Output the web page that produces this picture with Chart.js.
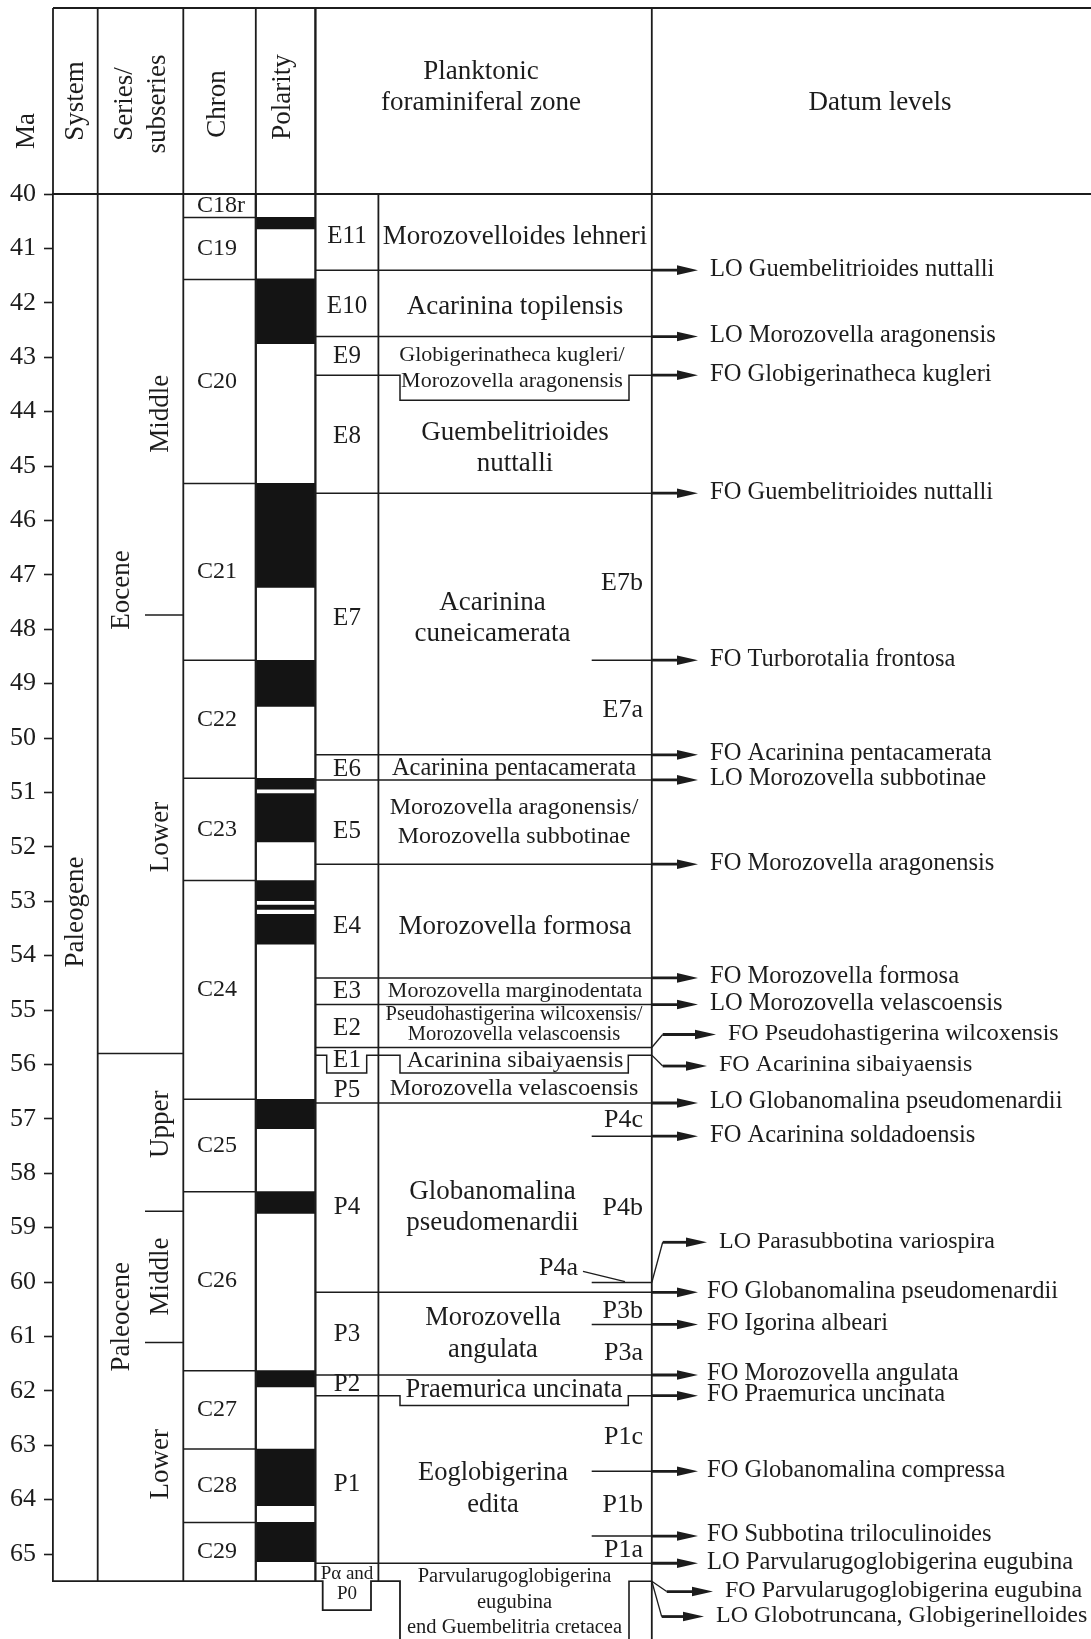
<!DOCTYPE html>
<html>
<head>
<meta charset="utf-8">
<script src="https://cdn.jsdelivr.net/npm/chart.js@4.4.1/dist/chart.umd.min.js"></script>
<style>
  html, body { margin: 0; padding: 0; background: #fff; }
  #wrap { width: 1091px; height: 1639px; }
</style>
</head>
<body>
<div id="wrap"><canvas id="c" width="1091" height="1639"></canvas></div>
<script>
// ---- Age axis (Ma) ----
const ageTicks = [40,41,42,43,44,45,46,47,48,49,50,51,52,53,54,55,56,57,58,59,60,61,62,63,64,65];
const ageTop = 40;
const ageBase = 65.5;

// ---- Magnetic chrons ----
const chronNames = ['C18r','C19','C20','C21','C22','C23','C24','C25','C26','C27','C28','C29'];
const chronBases = [40.43, 41.57, 45.32, 48.57, 50.74, 52.62, 56.64, 58.34, 61.63, 63.07, 64.42, 65.5];

// ---- Normal polarity intervals (black) ----
const normalTops  = [40.43, 41.56, 45.32, 48.57, 50.74, 51.02, 52.62, 53.07, 53.24, 56.64, 58.34, 61.63, 63.07, 64.42];
const normalBases = [40.64, 42.75, 47.23, 49.42, 50.94, 51.91, 52.99, 53.15, 53.79, 57.18, 58.74, 61.93, 64.11, 65.14];

// ---- System / series / subseries ----
const systemName = 'Paleogene';
const systemLabelAt = 53.2;
const seriesNames = ['Eocene', 'Paleocene'];
const seriesBases = [55.8, 65.5];
const seriesLabelAt = [47.28, 60.64];
const subseriesNames = ['Middle', 'Lower', 'Upper', 'Middle', 'Lower'];
const subseriesBases = [47.74, 55.8, 58.7, 61.11, 65.5];
const subseriesLabelAt = [44.04, 51.82, 57.1, 59.9, 63.35];

// ---- Planktonic foraminiferal zones ----
const zoneCodes = ['E11','E10','E9','E8','E7','E6','E5','E4','E3','E2','E1','P5','P4','P3','P2','P1'];
const zoneBases = [41.40, 42.62, 43.33, 45.50, 50.31, 50.77, 52.32, 54.41, 54.90, 55.69, 55.83, 56.71, 60.19, 61.71, 62.09, 65.17];
const zoneCodeAt = [40.78, 42.07, 42.99, 44.46, 47.80, 50.58, 51.72, 53.47, 54.66, 55.34, 55.93, 56.47, 58.63, 60.96, 61.89, 63.73];
const zoneNames = [
  ['Morozovelloides lehneri'],
  ['Acarinina topilensis'],
  ['Globigerinatheca kugleri/', 'Morozovella aragonensis'],
  ['Guembelitrioides', 'nuttalli'],
  ['Acarinina', 'cuneicamerata'],
  ['Acarinina pentacamerata'],
  ['Morozovella aragonensis/', 'Morozovella subbotinae'],
  ['Morozovella formosa'],
  ['Morozovella marginodentata'],
  ['Pseudohastigerina wilcoxensis/', 'Morozovella velascoensis'],
  ['Acarinina sibaiyaensis'],
  ['Morozovella velascoensis'],
  ['Globanomalina', 'pseudomenardii'],
  ['Morozovella', 'angulata'],
  ['Praemurica uncinata'],
  ['Eoglobigerina', 'edita']
];
const zoneNameAt = [40.78, 42.07, 43.20, 44.67, 47.80, 50.56, 51.55, 53.47, 54.66, 55.27, 55.93, 56.44, 58.63, 60.96, 61.99, 63.81];

// Lowest zone (Pα and P0), partly below the section base
const baseZoneCode = ['Pα and', 'P0'];
const baseZoneCodeAt = [65.36, 65.73];
const baseZoneName = ['Parvularugoglobigerina', 'eugubina', 'end Guembelitria cretacea'];
const baseZoneNameAt = 65.89;
const baseZoneBoxBase = 66.03;

// Boxes of E9, E1 and P2 that reach below their zone boundary
const e9BoxBase = 43.79;
const e1BoxBase = 56.16;
const p2BoxBase = 62.27;

// ---- Subzones ----
const subzoneBounds = [48.57, 57.32, 60.01, 60.78, 63.48, 64.67];
const subzoneLabels = ['E7b','E7a','P4c','P4b','P4a','P3b','P3a','P1c','P1b','P1a'];
const subzoneLabelAt = [47.16, 49.49, 57.02, 58.65, 59.75, 60.54, 61.31, 62.86, 64.11, 64.93];

// ---- Datum levels ----
const datumNames = [
  'LO Guembelitrioides nuttalli',
  'LO Morozovella aragonensis',
  'FO Globigerinatheca kugleri',
  'FO Guembelitrioides nuttalli',
  'FO Turborotalia frontosa',
  'FO Acarinina pentacamerata',
  'LO Morozovella subbotinae',
  'FO Morozovella aragonensis',
  'FO Morozovella formosa',
  'LO Morozovella velascoensis',
  'FO Pseudohastigerina wilcoxensis',
  'FO Acarinina sibaiyaensis',
  'LO Globanomalina pseudomenardii',
  'FO Acarinina soldadoensis',
  'LO Parasubbotina variospira',
  'FO Globanomalina pseudomenardii',
  'FO Igorina albeari',
  'FO Morozovella angulata',
  'FO Praemurica uncinata',
  'FO Globanomalina compressa',
  'FO Subbotina triloculinoides',
  'LO Parvularugoglobigerina eugubina',
  'FO Parvularugoglobigerina eugubina',
  'LO Globotruncana, Globigerinelloides'
];
// age where each datum leaves the zone column
const datumAges = [41.40, 42.62, 43.33, 45.50, 48.57, 50.31, 50.77, 52.32, 54.41, 54.90, 55.69, 55.83,
                   56.71, 57.32, 60.01, 60.19, 60.78, 61.71, 62.09, 63.48, 64.67, 65.17, 65.5, 65.5];
// age level of each arrow (differs where a leader is bent)
const datumArrowAges = [41.40, 42.62, 43.33, 45.50, 48.57, 50.31, 50.77, 52.32, 54.41, 54.90, 55.45, 56.03,
                        56.71, 57.32, 59.27, 60.19, 60.78, 61.71, 62.09, 63.48, 64.67, 65.17, 65.69, 66.15];

// ================= drawing =================
const INK = '#1c1c1c';
const SERIF = '"Liberation Serif", "Times New Roman", serif';

// column edges (x scale units = canvas px)
const COL = { axis: 53, system: 97.7, series: 183.3, chron: 255.8, polarity: 315.4, code: 378.4, datum: 651.8, right: 1091 };

const columnPlugin = {
  id: 'stratColumns',
  afterDatasetsDraw(chart) {
    const { ctx, scales } = chart;
    const xs = scales.x, ys = scales.y;
    const X = v => xs.getPixelForValue(v);
    const Y = v => ys.getPixelForValue(v);
    const H = chart.height;
    const headTop = 8;

    ctx.save();
    ctx.strokeStyle = INK;
    ctx.fillStyle = INK;
    ctx.lineCap = 'butt';
    ctx.lineJoin = 'miter';

    const seg = (x1, y1, x2, y2, w) => {
      ctx.lineWidth = w || 1.6;
      ctx.beginPath(); ctx.moveTo(x1, y1); ctx.lineTo(x2, y2); ctx.stroke();
    };
    const path = (pts, w) => {
      ctx.lineWidth = w || 1.6;
      ctx.beginPath();
      pts.forEach((p, i) => i ? ctx.lineTo(p[0], p[1]) : ctx.moveTo(p[0], p[1]));
      ctx.stroke();
    };
    const txt = (s, x, y, size, align, rotate) => {
      ctx.save();
      ctx.font = size + 'px ' + SERIF;
      ctx.textAlign = align || 'center';
      ctx.textBaseline = 'middle';
      if (rotate) { ctx.translate(x, y); ctx.rotate(-Math.PI / 2); ctx.fillText(s, 0, 0); }
      else ctx.fillText(s, x, y);
      ctx.restore();
    };

    const y40 = Y(ageTop), yBase = Y(ageBase);

    // ---- header frame ----
    seg(X(COL.axis), headTop, X(COL.right), headTop, 1.8);
    seg(X(COL.axis), y40, X(COL.right), y40, 1.8);
    [COL.axis, COL.system, COL.series, COL.chron, COL.datum].forEach(c => seg(X(c), headTop, X(c), y40, 1.8));
    seg(X(COL.polarity), headTop, X(COL.polarity), y40, 2.4);

    // header titles
    txt('Ma', 27, 131, 27, 'center', true);
    txt('System', 75.5, 101, 27, 'center', true);
    txt('Series/', 125, 104, 27, 'center', true);
    txt('subseries', 158, 104, 27, 'center', true);
    txt('Chron', 218, 104, 27, 'center', true);
    txt('Polarity', 283, 97, 27, 'center', true);
    txt('Planktonic', 481, 72, 27);
    txt('foraminiferal zone', 481, 103, 27);
    txt('Datum levels', 880, 103, 27);

    // ---- body verticals ----
    [COL.system, COL.series, COL.code].forEach(c => seg(X(c), y40, X(c), yBase, 1.8));
    [COL.chron, COL.polarity].forEach(c => seg(X(c), y40, X(c), yBase, 2.3));
    seg(X(COL.datum), y40, X(COL.datum), H, 1.8);

    // section base with the Pα–P0 and lowest-zone boxes
    const yP0 = Y(baseZoneBoxBase);
    path([[X(COL.axis), yBase], [X(322.7), yBase], [X(322.7), yP0], [X(371), yP0], [X(371), yBase],
          [X(400), yBase], [X(400), H]], 1.8);
    path([[X(629), H], [X(629), yBase], [X(COL.datum), yBase]], 1.6);

    // ---- system / series ----
    txt(systemName, 75.5, Y(systemLabelAt), 27, 'center', true);
    seg(X(COL.system), Y(seriesBases[0]), X(COL.series), Y(seriesBases[0]), 1.5);
    seriesNames.forEach((s, i) => txt(s, 122, Y(seriesLabelAt[i]), 27, 'center', true));
    subseriesBases.forEach(b => {
      if (seriesBases.indexOf(b) < 0) seg(X(145), Y(b), X(COL.series), Y(b), 1.5);
    });
    subseriesNames.forEach((s, i) => txt(s, 161, Y(subseriesLabelAt[i]), 27, 'center', true));

    // ---- chrons ----
    chronBases.forEach((b, i) => {
      if (i < chronBases.length - 1) seg(X(COL.series), Y(b), X(COL.chron), Y(b), 1.5);
      const top = i ? chronBases[i - 1] : ageTop;
      txt(chronNames[i], 197, Y((top + b) / 2), 24, 'left');
    });

    // ---- zones ----
    zoneBases.forEach((b, i) => {
      const yb = Y(b);
      if (i === 2) {
        const yn = Y(e9BoxBase);
        path([[X(COL.polarity), yb], [X(400), yb], [X(400), yn], [X(629), yn], [X(629), yb], [X(COL.datum), yb]], 1.5);
      } else if (i === 10) {
        const yn = Y(e1BoxBase);
        path([[X(COL.polarity), yb], [X(326.7), yb], [X(326.7), yn], [X(366.7), yn], [X(366.7), yb],
              [X(400), yb], [X(400), yn], [X(628.3), yn], [X(628.3), yb], [X(COL.datum), yb]], 1.5);
      } else if (i === 14) {
        const yn = Y(p2BoxBase);
        path([[X(COL.polarity), yb], [X(400), yb], [X(400), yn], [X(628.3), yn], [X(628.3), yb], [X(COL.datum), yb]], 1.5);
      } else {
        seg(X(COL.polarity), yb, X(COL.datum), yb, 1.5);
      }
    });

    // zone codes
    zoneCodes.forEach((c, i) => txt(c, 347, Y(zoneCodeAt[i]), 25));
    baseZoneCode.forEach((c, i) => txt(c, 347, Y(baseZoneCodeAt[i]), 19));

    // zone names: font size, line spacing and centre x for each
    const nameSize = [27, 27, 22, 27, 27, 24.5, 24, 27, 22, 20.5, 24, 24, 27, 26.5, 26.5, 26.5];
    const nameGap  = [0, 0, 26.7, 31, 31.7, 0, 28.4, 0, 0, 20.7, 0, 0, 31.6, 31.7, 0, 31.7];
    const nameX    = [515, 515, 512, 515, 492.5, 514, 514, 515, 515, 514, 515, 514, 492.5, 493, 514, 493];
    zoneNames.forEach((lines, i) => {
      const yc = Y(zoneNameAt[i]);
      const y0 = yc - (lines.length - 1) * nameGap[i] / 2;
      lines.forEach((s, k) => txt(s, nameX[i], y0 + k * nameGap[i], nameSize[i]));
    });
    {
      const yc = Y(baseZoneNameAt);
      baseZoneName.forEach((s, k) => txt(s, 514.5, yc + (k - 1) * 25.5, 20.5));
    }

    // subzone ticks and labels
    subzoneBounds.forEach(b => seg(X(591.7), Y(b), X(COL.datum), Y(b), 1.5));
    subzoneLabels.forEach((s, i) => {
      if (s === 'P4a') {
        txt(s, 578, Y(subzoneLabelAt[i]), 26, 'right');
        seg(X(583), Y(subzoneLabelAt[i]) + 3, X(625), Y(subzoneBounds[2]) - 1, 1.3);
      } else {
        txt(s, 643, Y(subzoneLabelAt[i]), 26, 'right');
      }
    });

    // ---- datum arrows ----
    const bent = { 10: [662.7, 716], 11: [662.7, 707], 14: [662.7, 707], 22: [666.7, 713], 23: [661.7, 704] };
    const arrow = (x0, yy, tip) => {
      seg(x0, yy, tip - 14, yy, 2.8);
      ctx.beginPath();
      ctx.moveTo(tip, yy);
      ctx.lineTo(tip - 21, yy - 4.8);
      ctx.lineTo(tip - 21, yy + 4.8);
      ctx.closePath();
      ctx.fill();
    };
    datumNames.forEach((name, i) => {
      const yFrom = Y(datumAges[i]);
      const yTo = Y(datumArrowAges[i]);
      let tip = 698, gap = 12, size = 24.5;
      if (bent[i]) {
        const [bx, t] = bent[i];
        seg(X(COL.datum), yFrom, X(bx), yTo, 1.3);
        arrow(X(bx), yTo, X(t));
        tip = t;
        size = 24;
      } else {
        if (i >= 15) gap = 9;
        arrow(X(COL.datum), yTo, X(tip));
      }
      txt(name, X(tip + gap), yTo - 1, size, 'left');
    });

    ctx.restore();
  }
};

new Chart(document.getElementById('c'), {
  type: 'bar',
  data: {
    datasets: [{
      label: 'Normal polarity',
      data: normalTops.map((t, i) => ({ x: (COL.chron + COL.polarity) / 2, y: [t, normalBases[i]] })),
      backgroundColor: '#141414',
      borderWidth: 0,
      barThickness: COL.polarity - COL.chron
    }]
  },
  options: {
    responsive: false,
    devicePixelRatio: 1,
    animation: false,
    layout: { padding: { top: 194, bottom: 1639 - 194 - 25.5 * 54.4, left: 0, right: 0 } },
    plugins: { legend: { display: false }, tooltip: { enabled: false } },
    scales: {
      x: { type: 'linear', min: COL.axis, max: COL.right, offset: false, display: false },
      y: {
        type: 'linear', reverse: true, min: ageTop, max: ageBase,
        afterFit: s => { s.width = COL.axis; },
        afterBuildTicks: s => { s.ticks = ageTicks.map(v => ({ value: v })); },
        grid: { drawOnChartArea: false, drawTicks: true, tickLength: 9, tickWidth: 1.6, tickColor: INK },
        border: { display: true, color: INK, width: 1.8 },
        ticks: { autoSkip: false, padding: 8, color: INK, font: { family: 'Liberation Serif', size: 26 } }
      }
    }
  },
  plugins: [columnPlugin]
});
</script>
</body>
</html>
